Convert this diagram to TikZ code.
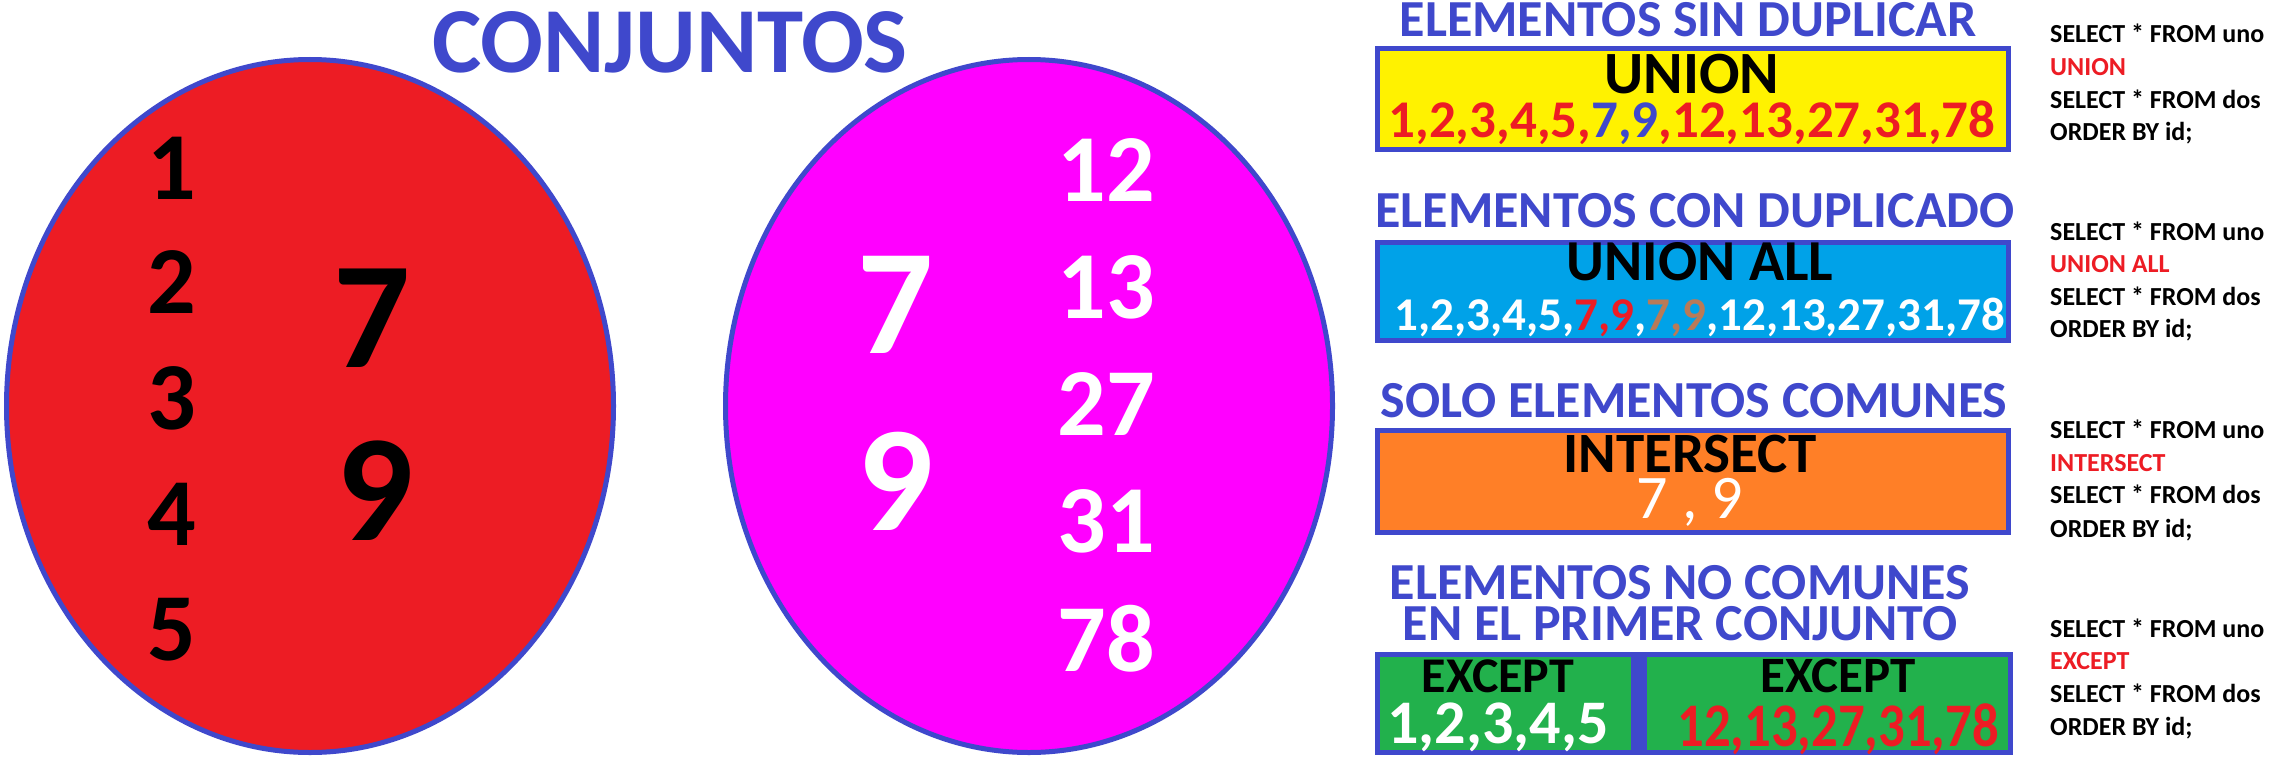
\documentclass[tikz,border=0pt]{standalone}
\usepackage{fontspec}
\usepackage{graphicx}
\setmainfont{Carlito}
\usetikzlibrary{shapes.geometric}
\definecolor{indigo}{RGB}{63,72,204}
\definecolor{pred}{RGB}{237,28,36}
\definecolor{pmag}{RGB}{255,0,255}
\definecolor{pyel}{RGB}{255,242,0}
\definecolor{pcyan}{RGB}{0,162,232}
\definecolor{porange}{RGB}{255,127,39}
\definecolor{pgreen}{RGB}{34,177,76}
\definecolor{pbrown}{RGB}{185,122,87}
\newcommand{\fsz}[1]{\fontsize{#1}{#1}\selectfont}
\newcommand{\fszb}[2]{\fontsize{#1}{#2}\selectfont}
\tikzset{
  setshape/.style={ellipse, draw=indigo, line width=5pt, inner sep=0pt, minimum width=607pt, minimum height=693pt},
  opbox/.style={rectangle, draw=indigo, line width=5pt, inner sep=0pt, minimum width=631pt},
  txt/.style={inner sep=0pt, anchor=base, font=\bfseries},
  stack/.style={inner sep=0pt, anchor=base, align=center},
  num/.style={inner sep=0pt, anchor=center, font=\bfseries},
  sql/.style={inner sep=0pt, anchor=base west, font=\bfseries\fsz{26}},
}
\begin{document}
\begin{tikzpicture}[x=1pt,y=-1pt]
\useasboundingbox (0,0) rectangle (2277,760);
\fill[white] (0,0) rectangle (2277,760);
% sets
\node[setshape, fill=pred] (setA) at (310,406) {};
\node[setshape, fill=pmag] (setB) at (1029,406) {};
\node[txt, text=indigo, font=\bfseries\fsz{93}] (title) at (670,73) {CONJUNTOS};
% set A numbers
\foreach \v/\yy in {1/168,2/282,3/398,4/514,5/630}
  \node[num, font=\bfseries\fsz{96}] (a\v) at (172,\yy) {\v};
\node[num, font=\bfseries\fsz{152}] (a7) at (372,318) {7};
\node[num, font=\bfseries\fsz{152}] (a9) at (375,491) {9};
% set B numbers
\node[num, text=white, font=\bfseries\fsz{150}] (b7) at (896,305) {7};
\node[num, text=white, font=\bfseries\fsz{150}] (b9) at (896,481) {9};
\foreach \v/\yy in {12/170,13/287,27/404,31/521,78/639}
  \node[num, text=white, font=\bfseries\fsz{96}] (b\v) at (1106,\yy) {\v};
% UNION
\node[txt, text=indigo, font=\bfseries\fsz{52}] (h1) at (1688,37) {ELEMENTOS SIN DUPLICAR};
\node[opbox, fill=pyel, minimum height=101pt] (box1) at (1693,99) {};
\node[stack, font=\bfseries\fszb{53}{44}] (op1) at (1692,137)
  {{\fsz{60}UNION}\\\textcolor{pred}{1,2,3,4,5,\textcolor{indigo}{7,9},12,13,27,31,78}};
% UNION ALL
\node[txt, text=indigo, font=\bfseries\fsz{52}] (h2) at (1695,227) {ELEMENTOS CON DUPLICADO};
\node[opbox, fill=pcyan, minimum height=98pt] (box2) at (1693,291.5) {};
\node[stack, font=\bfseries\fszb{47}{50}] (op2) at (1700,330)
  {{\fsz{58}UNION ALL}\\\textcolor{white}{1,2,3,4,5,\textcolor{pred}{7,9},\textcolor{pbrown}{7,9},12,13,27,31,78}};
% INTERSECT
\node[txt, text=indigo, font=\bfseries\fsz{52}] (h3) at (1694,417) {SOLO ELEMENTOS COMUNES};
\node[opbox, fill=porange, minimum height=102pt] (box3) at (1693,481.5) {};
\node[stack, font=\bfseries\fszb{57}{46}] (op3) at (1690,518)
  {INTERSECT\\\textcolor{white}{\mdseries\fsz{62}7 , 9}};
% EXCEPT
\node[stack, text=indigo, font=\bfseries\fszb{52}{41}] (h4) at (1680,640)
  {ELEMENTOS NO COMUNES\\EN EL PRIMER CONJUNTO};
\node[rectangle, fill=indigo, inner sep=0pt, minimum width=638pt, minimum height=103pt] (box4) at (1694,703.5) {};
\node[rectangle, fill=pgreen, inner sep=0pt, minimum width=251pt, minimum height=93pt] (box4l) at (1505.5,703.5) {};
\node[rectangle, fill=pgreen, inner sep=0pt, minimum width=361pt, minimum height=93pt] (box4r) at (1827.5,703.5) {};
\node[stack, font=\bfseries\fszb{62}{51}] (op4l) at (1498,743)
  {{\fsz{50}EXCEPT}\\\textcolor{white}{1,2,3,4,5}};
\node[stack, font=\bfseries\fszb{62}{54}] (op4r) at (1838,746)
  {{\fsz{51}EXCEPT}\\\textcolor{pred}{\scalebox{0.85}[1]{12,13,27,31,78}}};
% SQL
\foreach \blk/\kw/\ya/\yb/\yc/\yd in {1/UNION/43/75/108/140, 2/UNION ALL/240/272/305/337, 3/INTERSECT/438/471/503/537, 4/EXCEPT/637/669/702/735}{
  \node[sql] (s\blk a) at (2050,\ya) {SELECT * FROM uno};
  \node[sql, text=pred] (s\blk b) at (2050,\yb) {\kw};
  \node[sql] (s\blk c) at (2050,\yc) {SELECT * FROM dos};
  \node[sql] (s\blk d) at (2050,\yd) {ORDER BY id;};
}
\end{tikzpicture}
\end{document}
